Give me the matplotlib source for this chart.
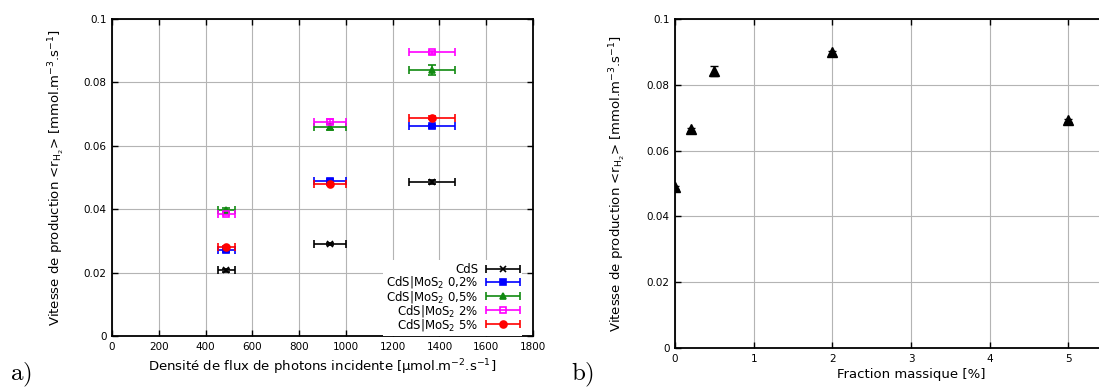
import numpy as np
import matplotlib
matplotlib.use("Agg")
import matplotlib.pyplot as plt
from matplotlib.container import ErrorbarContainer
from matplotlib.legend_handler import HandlerErrorbar

plt.rcParams['font.family'] = ['DejaVu Sans']
plt.rcParams['mathtext.fontset'] = 'dejavusans'

# panel a) data
flux = [489, 933, 1368]
flux_err = [37, 69, 99]
series_labels = ['CdS', r'CdS|MoS$_2$ 0,2%', r'CdS|MoS$_2$ 0,5%',
                 r'CdS|MoS$_2$ 2%', r'CdS|MoS$_2$ 5%']
rate_cds = [0.0207, 0.0290, 0.0487]
rate_02 = [0.0270, 0.0490, 0.0661]
rate_05 = [0.0398, 0.0659, 0.0839]
rate_2 = [0.0386, 0.0676, 0.0895]
rate_5 = [0.0281, 0.0481, 0.0689]
err_cds = [0.0004, 0.0003, 0.0006]
err_02 = [0.0004, 0.0004, 0.0004]
err_05 = [0.0006, 0.0010, 0.0015]
err_2 = [0.0005, 0.0007, 0.0004]
err_5 = [0.0003, 0.0004, 0.0004]

# panel b) data
fraction = [0, 0.2, 0.5, 2, 5]
rate_frac = [0.0488, 0.0665, 0.0842, 0.0899, 0.0692]
err_frac = [0.0004, 0.0004, 0.0015, 0.0004, 0.0004]

fig = plt.figure(figsize=(10.99, 3.88), dpi=100)
ax1 = fig.add_axes([0.1019, 0.134, 0.3831, 0.817])
ax2 = fig.add_axes([0.6142, 0.1031, 0.4296, 0.848])

styles = [
    (rate_cds, err_cds, 'black', 'x', 4, 'black'),
    (rate_02, err_02, '#0000ff', 's', 5, '#0000ff'),
    (rate_05, err_05, '#118a11', '^', 4, '#118a11'),
    (rate_2, err_2, '#ff00ff', 's', 5, 'none'),
    (rate_5, err_5, '#ff0000', 'o', 5, '#ff0000'),
]
handles = []
for (vals, errs, col, mk, ms, fc), lab in zip(styles, series_labels):
    kw = dict(fmt=mk, color=col, ms=ms, mfc=fc, mec=col, mew=1.2,
              elinewidth=1.2, capsize=3, capthick=1)
    ax1.errorbar(flux, vals, xerr=flux_err, yerr=errs, **kw)
    # legend proxy: marker with horizontal bar only
    h = ax1.errorbar([np.nan], [np.nan], xerr=[1], label=lab, **kw)
    handles.append(h)

ax1.set_xlim(0, 1800)
ax1.set_ylim(0, 0.1)
ax1.set_xticks(np.arange(0, 1801, 200))
ax1.set_yticks([0, 0.02, 0.04, 0.06, 0.08, 0.1])
ax1.set_yticklabels(['0', '0.02', '0.04', '0.06', '0.08', '0.1'])
ax1.set_xlabel(r'Densité de flux de photons incidente [µmol.m$^{-2}$.s$^{-1}$]',
               fontsize=9.5, labelpad=4)
ax1.set_ylabel(r'Vitesse de production <r$_{\mathrm{H_2}}$> [mmol.m$^{-3}$.s$^{-1}$]',
               fontsize=9.5, labelpad=12)
leg = ax1.legend(handles=handles, loc='lower right', bbox_to_anchor=(0.975, 0.0),
                 markerfirst=False, fontsize=8.5, frameon=True, fancybox=False,
                 framealpha=1, edgecolor='none', handlelength=2.8,
                 handletextpad=0.7, labelspacing=-0.15, borderpad=0.25,
                 borderaxespad=0.0,
                 handler_map={ErrorbarContainer: HandlerErrorbar(xerr_size=1.4)})
for t in leg.get_texts():
    t.set_ha('right')

ax2.errorbar(fraction, rate_frac, yerr=err_frac, fmt='^', color='black',
             ms=7, elinewidth=1, capsize=3, capthick=1)
ax2.set_xlim(0, 6)
ax2.set_ylim(0, 0.1)
ax2.set_xticks(range(0, 6))
ax2.set_yticks([0, 0.02, 0.04, 0.06, 0.08, 0.1])
ax2.set_yticklabels(['0', '0.02', '0.04', '0.06', '0.08', '0.1'])
ax2.set_xlabel('Fraction massique [%]', fontsize=9.5, labelpad=3)
ax2.set_ylabel(r'Vitesse de production <r$_{\mathrm{H_2}}$> [mmol.m$^{-3}$.s$^{-1}$]',
               fontsize=9.5, labelpad=13)

for ax in (ax1, ax2):
    ax.grid(True, color='#b4b4b4', lw=0.8)
    ax.set_axisbelow(True)
    ax.tick_params(direction='in', top=True, right=True, length=4,
                   labelsize=7.5, width=1, pad=4)
    for sp in ax.spines.values():
        sp.set_linewidth(1.3)

fig.text(0.009, 0.02, r'$\mathrm{a)}$', fontsize=18, math_fontfamily='cm',
         va='baseline')
fig.text(0.520, 0.02, r'$\mathrm{b)}$', fontsize=18, math_fontfamily='cm',
         va='baseline')

fig.savefig('out.png', dpi=100)
